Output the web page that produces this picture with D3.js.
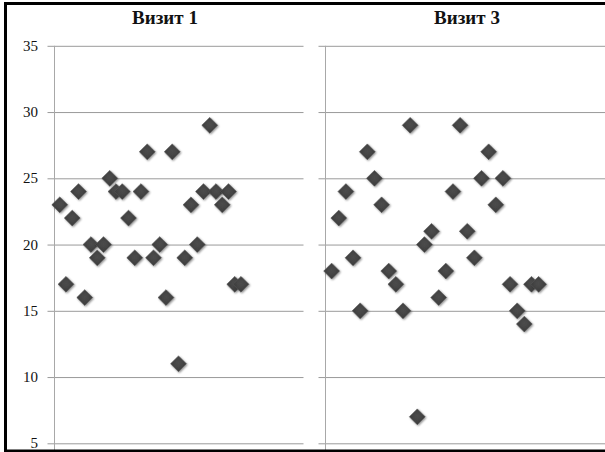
<!DOCTYPE html>
<html>
<head>
<meta charset="utf-8">
<script src="https://cdn.jsdelivr.net/npm/d3@7"></script>
<style>
  body { margin: 0; background: #fff; }
  svg { display: block; }
</style>
</head>
<body>
<div id="chart"></div>
<script>
// patient number (x) and score (y) per visit
const patients = d3.range(1, 31);
const visit1 = [23, 17, 22, 24, 16, 20, 19, 20, 25, 24, 24, 22, 19, 24, 27,
                19, 20, 16, 27, 11, 19, 23, 20, 24, 29, 24, 23, 24, 17, 17];
const visit3 = [18, 22, 24, 19, 15, 27, 25, 23, 18, 17, 15, 29, 7, 20, 21,
                16, 18, 24, 29, 21, 19, 25, 27, 23, 25, 17, 15, 14, 17, 17];
const yTicks = [5, 10, 15, 20, 25, 30, 35];
const titles = ["Визит 1", "Визит 3"];

// layout of the two excel charts (second one is cut at the right edge)
const panels = [
  { title: titles[0], values: visit1, x0: 53.5, x1: 303.5, titleX: 165, labels: true },
  { title: titles[1], values: visit3, x0: 324.5, x1: 610, titleX: 467, labels: false }
];

const width = 605, height = 452;

const svg = d3.select("#chart")
  .append("svg")
  .attr("width", width)
  .attr("height", height);

const defs = svg.append("defs");

// bevel look of the excel diamonds
const grad = defs.append("radialGradient")
  .attr("id", "diamondFill")
  .attr("cx", "50%").attr("cy", "45%").attr("r", "60%");
grad.append("stop").attr("offset", "0%").attr("stop-color", "#4c4c4c");
grad.append("stop").attr("offset", "70%").attr("stop-color", "#404040");
grad.append("stop").attr("offset", "100%").attr("stop-color", "#2e2e2e");

const shadow = defs.append("filter")
  .attr("id", "shadow")
  .attr("x", "-50%").attr("y", "-50%")
  .attr("width", "200%").attr("height", "200%");
shadow.append("feGaussianBlur").attr("in", "SourceAlpha").attr("stdDeviation", 1.2).attr("result", "blur");
shadow.append("feOffset").attr("in", "blur").attr("dx", 0.5).attr("dy", 1).attr("result", "off");
shadow.append("feComponentTransfer").attr("in", "off").attr("result", "soft")
  .append("feFuncA").attr("type", "linear").attr("slope", 0.45);
const merge = shadow.append("feMerge");
merge.append("feMergeNode").attr("in", "soft");
merge.append("feMergeNode").attr("in", "SourceGraphic");

const yScale = d3.scaleLinear()
  .domain([5, 35])
  .range([443.3, 45.8]);

const diamond = d3.symbol().type(d3.symbolDiamond2).size(160);

panels.forEach((p) => {
  const xScale = d3.scaleLinear()
    .domain([0, 40])
    .range([p.x0, p.x1]);

  const g = svg.append("g");

  // gridlines, with the little tick stub left of the axis
  g.append("g")
    .attr("transform", `translate(${p.x0}, 0)`)
    .call(d3.axisLeft(yScale)
      .tickValues(yTicks)
      .tickSize(-(p.x1 - p.x0))
      .tickSizeOuter(0)
      .tickFormat(""))
    .call((a) => a.select(".domain").remove())
    .call((a) => a.selectAll(".tick line")
      .attr("x1", -6)
      .attr("stroke", "#9a9a9a"));

  // y axis line
  g.append("line")
    .attr("x1", Math.round(p.x0) + 0.5)
    .attr("x2", Math.round(p.x0) + 0.5)
    .attr("y1", yScale(35))
    .attr("y2", height)
    .attr("stroke", "#a8a8a8");

  if (p.labels) {
    g.selectAll(".ylab")
      .data(yTicks)
      .enter()
      .append("text")
      .attr("class", "ylab")
      .attr("x", p.x0 - 15.5)
      .attr("y", (d) => yScale(d) + 5)
      .attr("text-anchor", "end")
      .style("font-family", "'Liberation Serif', 'Times New Roman', serif")
      .style("font-size", "15px")
      .attr("fill", "#111")
      .text((d) => d);
  }

  g.append("text")
    .attr("x", p.titleX)
    .attr("y", 24)
    .attr("text-anchor", "middle")
    .style("font-family", "'Liberation Serif', 'Times New Roman', serif")
    .style("font-size", "19px")
    .style("font-weight", "bold")
    .attr("fill", "#111")
    .text(p.title);

  g.selectAll("path.pt")
    .data(p.values)
    .enter()
    .append("path")
    .attr("class", "pt")
    .attr("d", diamond)
    .attr("transform", (d, i) => `translate(${xScale(patients[i])}, ${yScale(d)})`)
    .attr("fill", "url(#diamondFill)")
    .attr("stroke", "#555")
    .attr("stroke-width", 0.6)
    .attr("filter", "url(#shadow)");
});

// outer frame (right side is cut off in the original)
svg.append("path")
  .attr("d", "M5.5,455V3.5H610")
  .attr("fill", "none")
  .attr("stroke", "#000")
  .attr("stroke-width", 3);
svg.append("line")
  .attr("x1", 4).attr("x2", 610)
  .attr("y1", 451).attr("y2", 451)
  .attr("stroke", "#000")
  .attr("stroke-width", 3);
</script>
</body>
</html>
